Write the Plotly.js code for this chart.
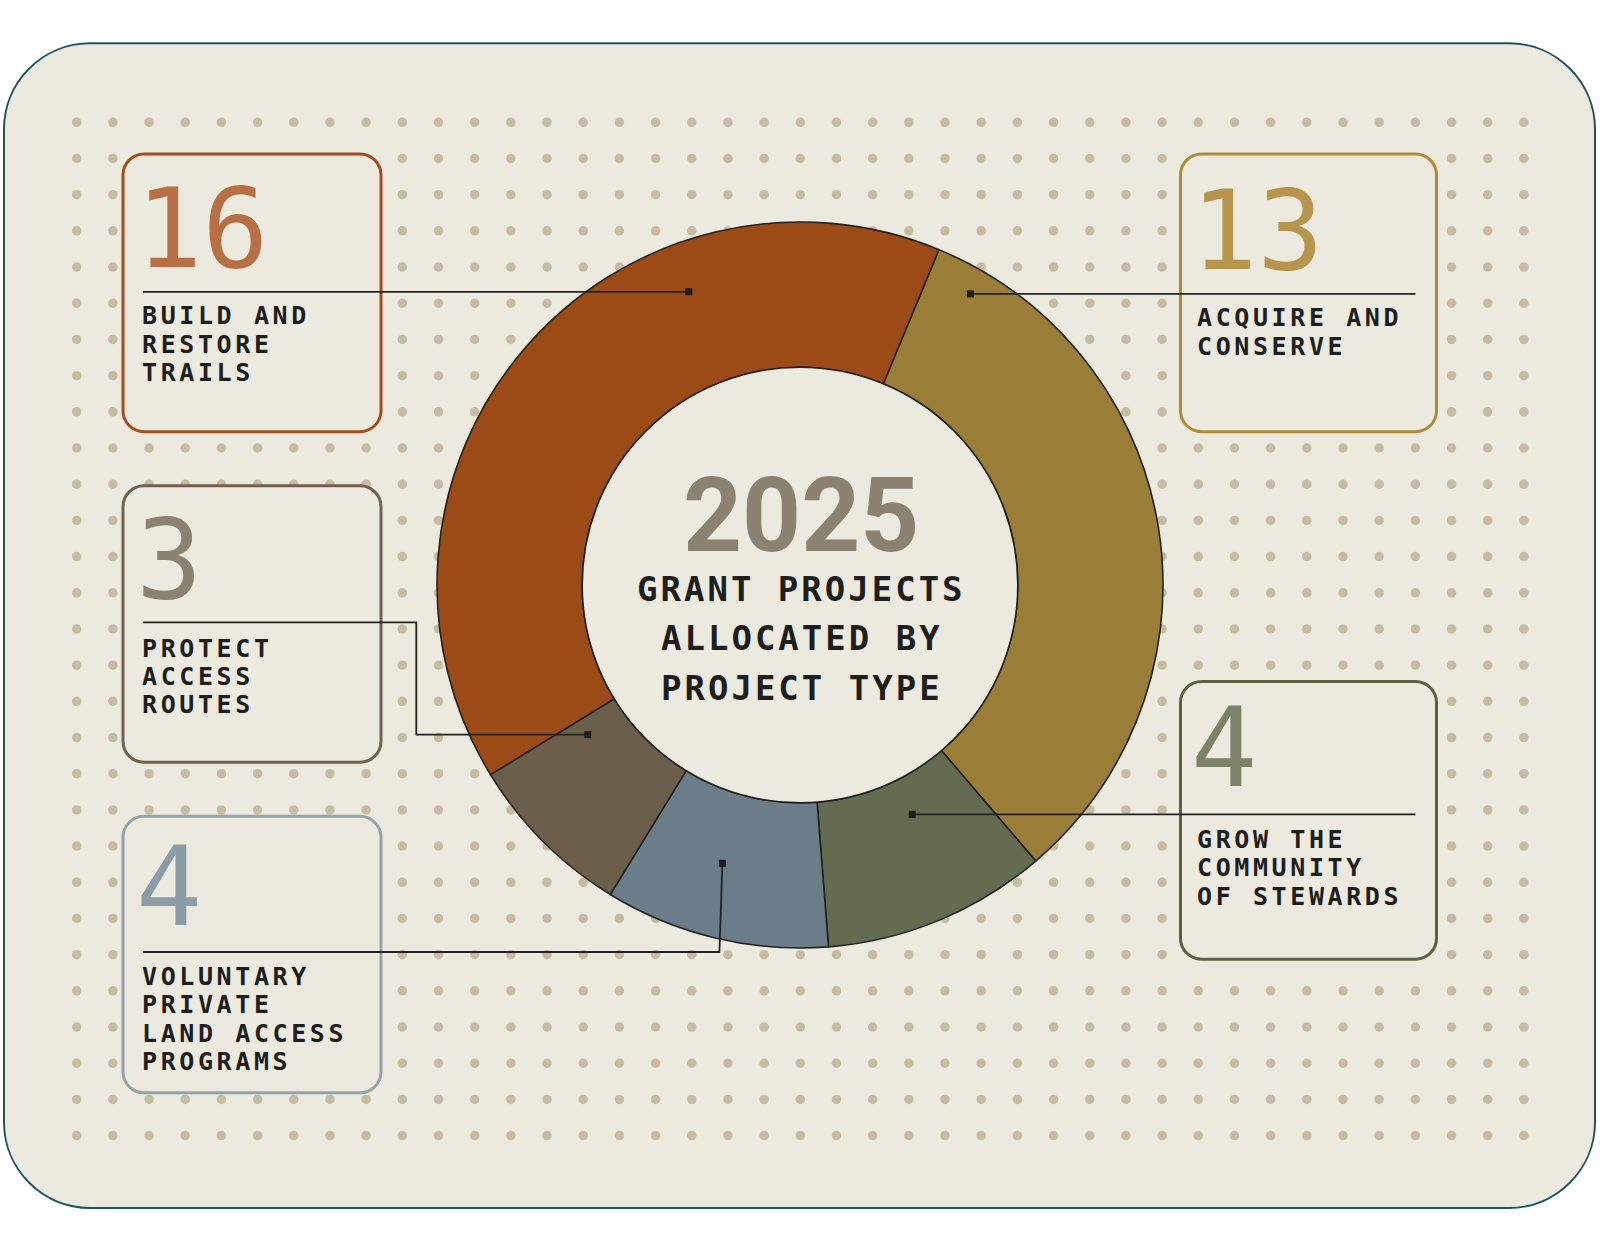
<!DOCTYPE html>
<html><head><meta charset="utf-8">
<script src="https://cdn.plot.ly/plotly-3.0.1.min.js"></script>
<style>html,body{margin:0;padding:0;background:#fff}</style>
</head><body><div id="chart" style="width:1600px;height:1252px"></div>
<script>
// ---- data ----
const categories = ['ACQUIRE AND<br>CONSERVE', 'GROW THE<br>COMMUNITY<br>OF STEWARDS', 'VOLUNTARY<br>PRIVATE<br>LAND ACCESS<br>PROGRAMS', 'PROTECT<br>ACCESS<br>ROUTES', 'BUILD AND<br>RESTORE<br>TRAILS'];
const projectCounts = [13, 4, 4, 3, 16];
const sliceColors = ['#9a7d37', '#636b50', '#6b7d88', '#6b5f4b', '#9c4a16'];
const numberColors = ['#b8954c', '#7b8268', '#8b9ca6', '#8c8272', '#b96f45'];
const boxColors = ['#b08a36', '#5b6142', '#93a5a6', '#6f6250', '#a34c1c'];
const centerYear = '2025';
const centerLines = ['GRANT PROJECTS', 'ALLOCATED BY', 'PROJECT TYPE'];

// ---- layout geometry (pixels) ----
const W = 1600, H = 1252;
const BG = '#ece9df', INK = '#1e1e1e';
const cx = 800, cy = 585, R = 363, HOLE = 0.6;
const boxes = [
  {x0:1180.5, y0:154,   x1:1436.5, y1:431.7,  tx:1195, nx:1189, numY:228.7, labY:317.8, lead:[[1415.5,293.9],[970.4,293.9]]},
  {x0:1180.5, y0:681.6, x1:1436.5, y1:959.2,  tx:1195, nx:1189, numY:745.9, labY:839.2, lead:[[1415.5,814.3],[912.2,814.3]]},
  {x0:123,    y0:816.3, x1:381,    y1:1092.8, tx:139.5, nx:134, numY:885,  labY:976.5, lead:[[142.9,952],[719.4,952],[722.4,863.3]]},
  {x0:123,    y0:485.7, x1:381,    y1:762.3,  tx:139.5, nx:134, numY:557.7, labY:648,  lead:[[142.9,622.4],[416.3,622.4],[416.3,734.7],[587.8,734.7]]},
  {x0:123,    y0:154,   x1:381,    y1:431.7,  tx:139.5, nx:134, numY:226.7, labY:315.9, lead:[[142.9,291.8],[688.8,291.8]]}
];

function rr(x0,y0,x1,y1,r){
  const k = 0.5523*r;
  return `M${x0+r},${y0} L${x1-r},${y0} C${x1-r+k},${y0} ${x1},${y0+r-k} ${x1},${y0+r} L${x1},${y1-r} C${x1},${y1-r+k} ${x1-r+k},${y1} ${x1-r},${y1} L${x0+r},${y1} C${x0+r-k},${y1} ${x0},${y1-r+k} ${x0},${y1-r} L${x0},${y0+r} C${x0},${y0+r-k} ${x0+r-k},${y0} ${x0+r},${y0} Z`;
}

// decorative dot grid
const dotX = [], dotY = [];
for (let j = 0; j < 29; j++) for (let i = 0; i < 41; i++) { dotX.push(76.7 + i*36.18); dotY.push(122.3 + j*36.19); }

const shapes = [];
shapes.push({type:'path', path: rr(4, 43.3, 1595, 1208, 86), xref:'x', yref:'y', layer:'below', fillcolor: BG, line:{color:'#1f5563', width:2}});
const rh = R*HOLE;
shapes.push({type:'circle', xref:'x', yref:'y', x0:cx-rh, x1:cx+rh, y0:cy-rh, y1:cy+rh, layer:'above', fillcolor:BG, line:{color:'#222', width:1.6}});
boxes.forEach((b,i) => {
  shapes.push({type:'path', path: rr(b.x0,b.y0,b.x1,b.y1,21), xref:'x', yref:'y', layer:'above', fillcolor:BG, line:{color:boxColors[i], width:3}});
});
boxes.forEach((b,i) => {
  const p = b.lead.map((pt,k) => (k? 'L':'M') + pt[0] + ',' + pt[1]).join(' ');
  shapes.push({type:'path', path:p, xref:'x', yref:'y', layer:'above', line:{color:'#222', width:1.8}});
  const e = b.lead[b.lead.length-1];
  shapes.push({type:'rect', xref:'x', yref:'y', x0:e[0]-3.5, x1:e[0]+3.5, y0:e[1]-3.5, y1:e[1]+3.5, layer:'above', fillcolor:'#1e1e1e', line:{width:0}});
});

const annotations = [], annSpacing = [];
function addAnn(a, sp){ annotations.push(Object.assign({xref:'x', yref:'y', showarrow:false}, a)); annSpacing.push(sp||0); }

boxes.forEach((b,i) => {
  addAnn({x:b.nx, y:b.numY + 2, xanchor:'left', yanchor:'middle', align:'left', text:String(projectCounts[i]),
    font:{family:'DejaVu Sans Mono', size:110, color:numberColors[i]}}, 0);
  categories[i].split('<br>').forEach((ln,k) => {
    addAnn({x:b.tx, y:b.labY + k*28.4, xanchor:'left', yanchor:'middle', align:'left', text:ln,
      font:{family:'DejaVu Sans Mono', size:25, weight:700, color:INK}}, 3.6);
  });
});
addAnn({x:cx+0.5, y:515, xanchor:'center', yanchor:'middle', height:84, valign:'middle', text:centerYear, font:{family:'Roboto', size:103, weight:700, color:'#8c8272'}}, 0);
centerLines.forEach((ln,k) => {
  addAnn({x:cx+1.5, y:589.2 + k*49.2, xanchor:'center', yanchor:'middle', text:ln, font:{family:'DejaVu Sans Mono', size:34, weight:700, color:INK}}, 3);
});

const traces = [
  {type:'scatter', mode:'markers', x:dotX, y:dotY, marker:{size:9.5, color:'#c5bca1'}, hoverinfo:'skip', showlegend:false},
  {type:'pie', values:projectCounts, labels:categories.map(c=>c.replace(/<br>/g,' ')), sort:false, direction:'clockwise', rotation:22.5,
   hole:HOLE, domain:{x:[(cx-R)/W, (cx+R)/W], y:[1-(cy+R)/H, 1-(cy-R)/H]},
   marker:{colors:sliceColors, line:{color:'#222', width:1.6}}, textinfo:'none', hoverinfo:'label+value', showlegend:false}
];

const layout = {
  width:W, height:H, margin:{l:0,r:0,t:0,b:0}, paper_bgcolor:'#ffffff', plot_bgcolor:'rgba(0,0,0,0)',
  xaxis:{range:[0,W], visible:false, fixedrange:true},
  yaxis:{range:[H,0], visible:false, fixedrange:true},
  showlegend:false, shapes:shapes, annotations:annotations
};

Plotly.newPlot('chart', traces, layout, {displayModeBar:false, responsive:false}).then(gd => {
  gd.querySelectorAll('.annotation').forEach(g => {
    const i = +g.getAttribute('data-index');
    const sp = annSpacing[i];
    if (sp) g.querySelectorAll('text').forEach(t => { t.style.letterSpacing = sp + 'px'; });
  });
});
</script></body></html>
